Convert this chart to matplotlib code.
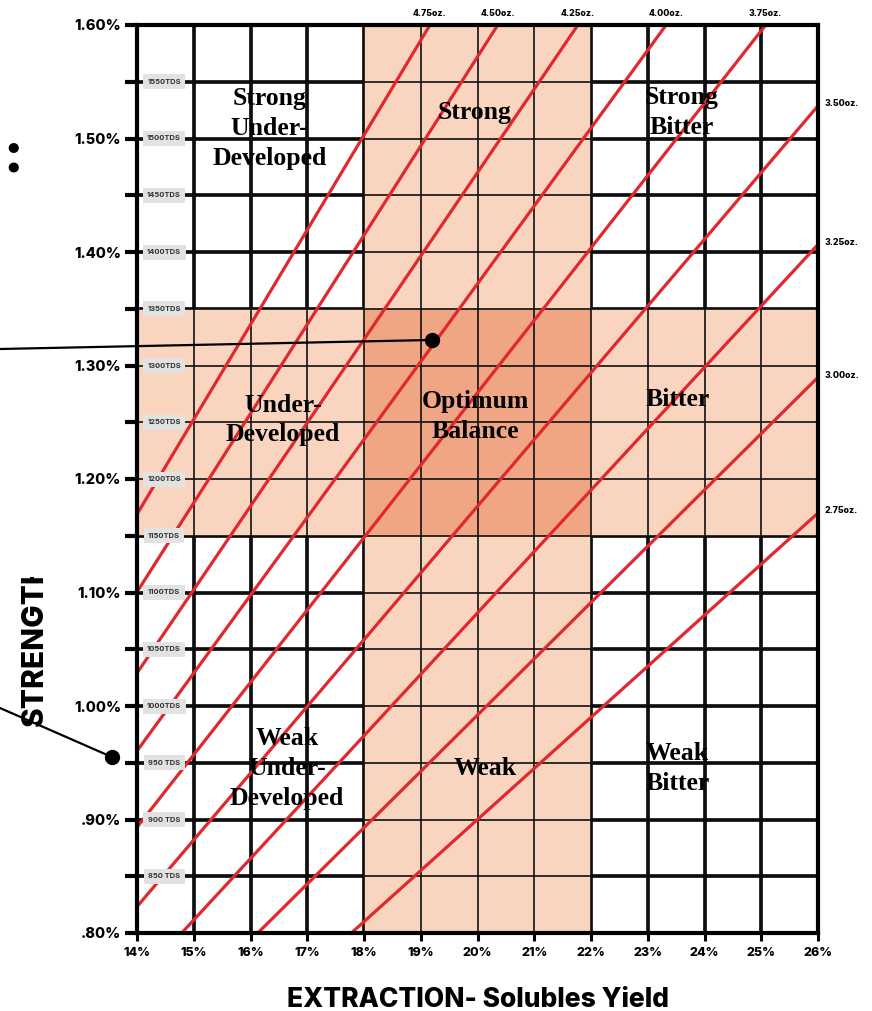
import matplotlib
matplotlib.use("Agg")
import matplotlib.pyplot as plt
from matplotlib.patches import Rectangle
from matplotlib.transforms import Bbox
import numpy as np

# ---- axes values -------------------------------------------------------
extraction_ticks = list(range(14, 27))                       # % solubles yield
extraction_labels = [f"{v}%" for v in extraction_ticks]
strength_grid = [0.80, 0.85, 0.90, 0.95, 1.00, 1.05, 1.10, 1.15,
                 1.20, 1.25, 1.30, 1.35, 1.40, 1.45, 1.50, 1.55, 1.60]
strength_labels = [".80%", "", ".90%", "", "1.00%", "", "1.10%", "", "1.20%", "",
                   "1.30%", "", "1.40%", "", "1.50%", "", "1.60%"]
tds_values = [850, 900, 950, 1000, 1050, 1100, 1150, 1200, 1250,
              1300, 1350, 1400, 1450, 1500, 1550]

# ---- brew-ratio lines: dose and strength (%) reached at 20% extraction --
dose_labels = ["4.75oz.", "4.50oz.", "4.25oz.", "4.00oz.", "3.75oz.",
               "3.50oz.", "3.25oz.", "3.00oz.", "2.75oz."]
strength_at_20 = [1.670, 1.572, 1.470, 1.372, 1.276, 1.176, 1.082, 0.992, 0.900]

# ---- zones -------------------------------------------------------------
ideal_extraction = (18, 22)
ideal_strength = (1.15, 1.35)
zone_texts = ["Strong\nUnder-\nDeveloped", "Strong", "Strong\nBitter",
              "Under-\nDeveloped", "Optimum\nBalance", "Bitter",
              "Weak\nUnder-\nDeveloped", "Weak", "Weak\nBitter"]
zone_x = [16.34, 19.94, 23.59, 16.57, 19.96, 23.53, 16.64, 20.13, 23.52]
zone_y = [1.509, 1.523, 1.523, 1.252, 1.255, 1.270, 0.945, 0.945, 0.945]

# ---- marked brews ------------------------------------------------------
point_extraction = [19.20, 13.56]
point_strength = [1.3225, 0.955]
leader_start_fig = [(0.0, 1 - 349 / 1011), (0.0, 1 - 708 / 1011)]

LIGHT = "#F9D5C0"
DARK = "#F0A684"
RED = "#E0282E"
SANS = "Inter"
HEAVY = 800
SERIF = "Liberation Serif"

fig = plt.figure(figsize=(8.72, 10.11), dpi=100)
ax = fig.add_axes([137 / 872, 78 / 1011, 681 / 872, 908 / 1011])
ax.set_xlim(14, 26)
ax.set_ylim(0.80, 1.60)
ax.set_facecolor("white")

# zone shading
x0, x1 = ideal_extraction
y0, y1 = ideal_strength
ax.add_patch(Rectangle((x0, 0.80), x1 - x0, 0.80, fc=LIGHT, ec="none", zorder=1.5))
ax.add_patch(Rectangle((14, y0), 12, y1 - y0, fc=LIGHT, ec="none", zorder=1.5))
ax.add_patch(Rectangle((x0, y0), x1 - x0, y1 - y0, fc=DARK, ec="none", zorder=1.6))

# grid: heavy lines under the shading, fine lines over it
for v in extraction_ticks:
    ax.axvline(v, color="black", lw=2.6, zorder=1)
    ax.axvline(v, color="#111111", lw=1.2, zorder=2)
for v in strength_grid:
    ax.axhline(v, color="black", lw=2.6, zorder=1)
    ax.axhline(v, color="#111111", lw=1.2, zorder=2)

# brew-ratio lines through the origin
ey = np.array([0.0, 26.0])
for label, s20 in zip(dose_labels, strength_at_20):
    ax.plot(ey, s20 * ey / 20.0, color=RED, lw=2.3, zorder=3, solid_capstyle="butt")
    ey_top = 1.60 * 20.0 / s20
    if ey_top <= 26:
        ax.annotate(label, xy=(ey_top, 1.60), xytext=(0, 8), textcoords="offset points",
                    ha="center", va="center", fontsize=6.3, fontweight=HEAVY,
                    family=SANS, annotation_clip=False)
    else:
        ax.annotate(label, xy=(26, 26 * s20 / 20.0), xytext=(5, 1.5), textcoords="offset points",
                    ha="left", va="center", fontsize=6.3, fontweight=HEAVY,
                    family=SANS, annotation_clip=False)

# zone names
for txt, zx, zy in zip(zone_texts, zone_x, zone_y):
    ax.text(zx, zy, txt, ha="center", va="center", fontsize=18.5, fontweight="bold",
            family=SERIF, linespacing=1.38, zorder=4)

# TDS tags along the left edge
for tds in tds_values:
    ax.text(14.476, tds / 1000.0, f"{tds}TDS" if tds >= 1000 else f"{tds} TDS",
            ha="center", va="center", fontsize=5.4, fontweight=700, color="#333333",
            family=SANS, zorder=5,
            bbox=dict(boxstyle="square,pad=0.6", fc="#E2E2E2", ec="none"))

# axes frame, ticks and labels
for sp in ax.spines.values():
    sp.set_linewidth(3)
    sp.set_zorder(6)
ax.set_xticks(extraction_ticks)
ax.set_xticklabels(extraction_labels)
ax.set_yticks(strength_grid)
ax.set_yticklabels(strength_labels)
ax.tick_params(axis="x", length=6, width=2.2, pad=4, labelsize=9)
ax.tick_params(axis="y", length=8.5, width=3, pad=3, labelsize=10.5)
for lab in ax.get_xticklabels() + ax.get_yticklabels():
    lab.set_fontweight(HEAVY)
    lab.set_family(SANS)
ax.set_xlabel("EXTRACTION- Solubles Yield", fontsize=19, fontweight=HEAVY,
              family=SANS, labelpad=20)

# marked brews with leader lines
for (px, py), start in zip(zip(point_extraction, point_strength), leader_start_fig):
    ax.annotate("", xy=(px, py), xycoords="data", xytext=start, textcoords="figure fraction",
                arrowprops=dict(arrowstyle="-", color="black", lw=1.6,
                                shrinkA=0, shrinkB=0), annotation_clip=False, zorder=7)
    ax.plot([px], [py], "o", color="black", ms=10, zorder=8, clip_on=False)

# vertical axis title, cut at the top
ylab = fig.text(35 / 872, 1 - 726 / 1011, "STRENGTH", rotation=90, ha="center", va="bottom",
                fontsize=21.5, fontweight=HEAVY, family=SANS)
ylab.set_clip_box(Bbox.from_extents(0, 0, 120, 1011 - 577))
ylab.set_clip_on(True)

fig.text(13 / 872, 1 - 157 / 1011, ":", ha="center", va="center", fontsize=40,
         fontweight=HEAVY, family=SANS)

fig.savefig("out.png", dpi=100, facecolor="white")
